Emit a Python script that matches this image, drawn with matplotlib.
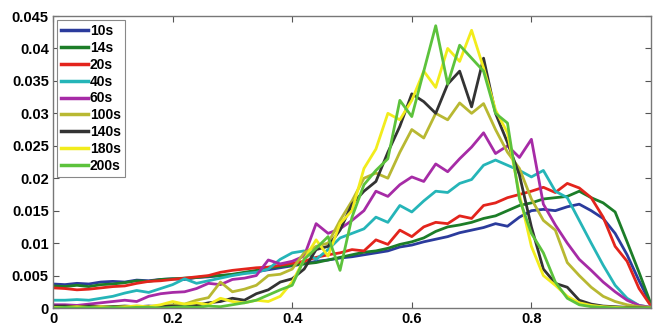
import numpy as np
import matplotlib
matplotlib.use("Agg")
import matplotlib.pyplot as plt

x = np.round(np.arange(0, 51) * 0.02, 2)

labels = ["10s", "14s", "20s", "40s", "60s", "100s", "140s", "180s", "200s"]
colors = ["#2b3b9c", "#1c7d28", "#e3241c", "#25b5b8", "#a62ba6",
          "#b8b832", "#333333", "#f2ec1c", "#5cc23c"]

s10 = [.0037, .0036, .0038, .0037, .0040, .0041, .0040, .0043, .0042, .0044,
       .0045, .0044, .0047, .0048, .0050, .0051, .0054, .0056, .0059, .0062,
       .0065, .0068, .0072, .0074, .0077, .0079, .0082, .0085, .0088, .0094,
       .0097, .0102, .0106, .0110, .0116, .0120, .0124, .0130, .0126, .0140,
       .0150, .0152, .0150, .0156, .0160, .0150, .0138, .0115, .0082, .0042, .0005]
s14 = [.0034, .0033, .0035, .0033, .0036, .0037, .0039, .0042, .0041, .0044,
       .0045, .0046, .0047, .0049, .0050, .0052, .0055, .0058, .0062, .0064,
       .0066, .0068, .0070, .0074, .0078, .0082, .0086, .0088, .0092, .0098,
       .0102, .0108, .0118, .0125, .0128, .0132, .0138, .0142, .0150, .0158,
       .0162, .0168, .0170, .0172, .0180, .0170, .0162, .0148, .0102, .0055, .0006]
s20 = [.0031, .0030, .0028, .0029, .0031, .0033, .0034, .0038, .0041, .0042,
       .0044, .0046, .0048, .0050, .0055, .0058, .0060, .0062, .0063, .0066,
       .0069, .0072, .0078, .0082, .0085, .0090, .0088, .0105, .0098, .0120,
       .0110, .0125, .0132, .0130, .0142, .0138, .0158, .0162, .0170, .0175,
       .0180, .0186, .0178, .0192, .0185, .0170, .0140, .0095, .0072, .0030, .0003]
s40 = [.0012, .0012, .0013, .0012, .0015, .0018, .0023, .0027, .0024, .0030,
       .0036, .0045, .0038, .0042, .0046, .0050, .0053, .0055, .0060, .0075,
       .0085, .0088, .0075, .0090, .0108, .0115, .0122, .0140, .0132, .0158,
       .0148, .0165, .0180, .0178, .0192, .0198, .0220, .0228, .0220, .0212,
       .0202, .0212, .0180, .0170, .0135, .0100, .0066, .0035, .0015, .0004, .0001]
s60 = [.0005, .0005, .0004, .0006, .0008, .0010, .0012, .0010, .0018, .0022,
       .0024, .0025, .0030, .0038, .0036, .0044, .0046, .0050, .0074, .0068,
       .0072, .0080, .0130, .0115, .0122, .0135, .0150, .0180, .0172, .0190,
       .0202, .0195, .0222, .0210, .0230, .0248, .0270, .0238, .0250, .0232,
       .0260, .0160, .0128, .0100, .0075, .0058, .0040, .0025, .0012, .0004, .0001]
s100 = [.0002, .0002, .0001, .0002, .0001, .0002, .0002, .0003, .0002, .0004,
        .0005, .0006, .0012, .0016, .0040, .0025, .0029, .0035, .0050, .0052,
        .0060, .0085, .0095, .0100, .0135, .0165, .0200, .0208, .0200, .0240,
        .0275, .0262, .0300, .0290, .0316, .0300, .0315, .0275, .0240, .0215,
        .0168, .0135, .0120, .0070, .0050, .0032, .0018, .0010, .0005, .0002, .0001]
s140 = [.0003, .0003, .0002, .0003, .0002, .0002, .0003, .0002, .0003, .0002,
        .0003, .0002, .0004, .0008, .0010, .0015, .0012, .0022, .0028, .0040,
        .0045, .0060, .0090, .0095, .0120, .0160, .0180, .0195, .0240, .0280,
        .0330, .0318, .0300, .0345, .0365, .0310, .0385, .0300, .0255, .0205,
        .0125, .0060, .0038, .0032, .0012, .0006, .0003, .0002, .0001, .0001, .0000]
s180 = [.0001, .0001, .0002, .0001, .0002, .0001, .0002, .0003, .0002, .0005,
        .0010, .0006, .0008, .0005, .0015, .0010, .0008, .0012, .0010, .0018,
        .0040, .0075, .0105, .0080, .0130, .0150, .0215, .0245, .0300, .0290,
        .0320, .0365, .0340, .0400, .0380, .0428, .0370, .0305, .0270, .0175,
        .0095, .0050, .0035, .0018, .0008, .0004, .0002, .0001, .0000, .0000, .0000]
s200 = [.0000, .0001, .0000, .0001, .0000, .0001, .0000, .0001, .0001, .0000,
        .0001, .0002, .0001, .0003, .0002, .0005, .0008, .0012, .0020, .0028,
        .0035, .0075, .0092, .0110, .0058, .0140, .0190, .0212, .0230, .0320,
        .0295, .0365, .0435, .0345, .0405, .0385, .0365, .0300, .0285, .0168,
        .0115, .0085, .0040, .0015, .0005, .0002, .0001, .0000, .0000, .0000, .0000]

series = [s10, s14, s20, s40, s60, s100, s140, s180, s200]

xticks = [0, 0.2, 0.4, 0.6, 0.8]
xticklabels = ["0", "0.2", "0.4", "0.6", "0.8"]
yticks = [0, 0.005, 0.01, 0.015, 0.02, 0.025, 0.03, 0.035, 0.04, 0.045]
yticklabels = ["0", "0.005", "0.01", "0.015", "0.02", "0.025", "0.03", "0.035", "0.04", "0.045"]

plt.rcParams['font.family'] = ['Liberation Sans', 'DejaVu Sans']

fig = plt.figure(figsize=(6.53, 3.26), dpi=100)
ax = fig.add_axes([53/653, 1 - 308/326, (651 - 53)/653, (308 - 16)/326])

for ys, lab, c in zip(series, labels, colors):
    ax.plot(x, ys, color=c, lw=2.0, label=lab)

ax.set_xlim(0, 1)
ax.set_ylim(0, 0.045)
ax.set_xticks(xticks)
ax.set_xticklabels(xticklabels, fontweight='bold', fontsize=10.5)
ax.set_yticks(yticks)
ax.set_yticklabels(yticklabels, fontweight='bold', fontsize=10.5)
ax.tick_params(direction='in', length=4, width=0.8, top=True, right=True,
               color='#555555', pad=3)
for sp in ax.spines.values():
    sp.set_color('#777777')
    sp.set_linewidth(1.0)

leg = ax.legend(loc='upper left', prop={'weight': 'bold', 'size': 10},
                handlelength=1.9, handletextpad=0.15, labelspacing=0.2,
                borderpad=0.3, borderaxespad=0.3, fancybox=False,
                framealpha=1.0, edgecolor='#888888')
leg.get_frame().set_linewidth(0.8)
for line in leg.get_lines():
    line.set_linewidth(2.5)

fig.savefig("out.png", dpi=100)
